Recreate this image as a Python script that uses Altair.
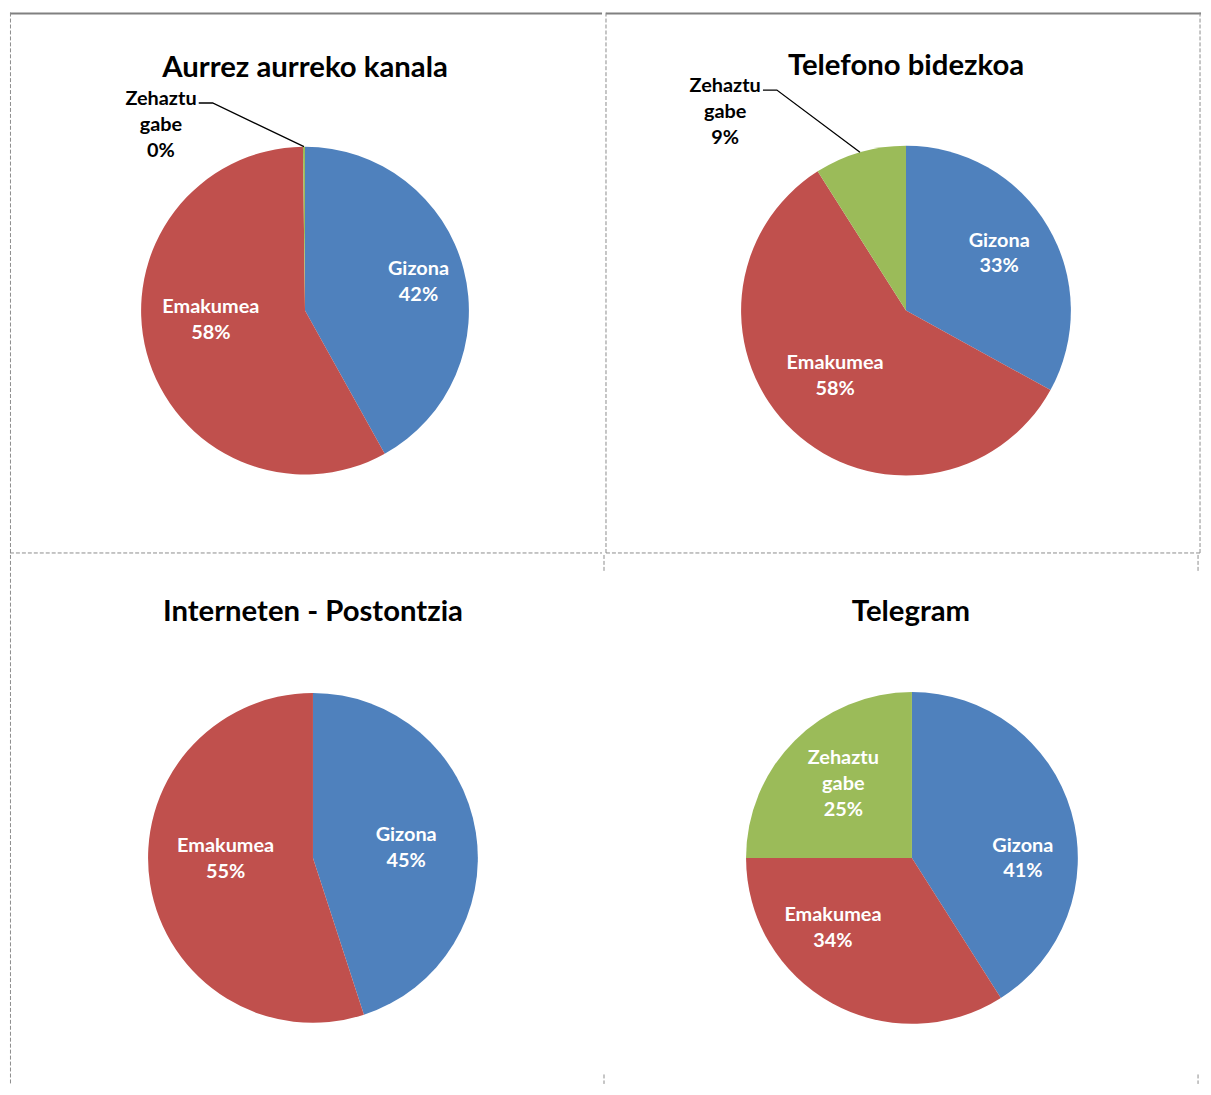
import math
import altair as alt
import pandas as pd

# ---------------- data ----------------
titles = ["Aurrez aurreko kanala", "Telefono bidezkoa", "Interneten - Postontzia", "Telegram"]
categories = ["Gizona", "Emakumea", "Zehaztu gabe"]
gizona = [42, 33, 45, 41]
emakumea = [58, 58, 55, 34]
zehaztu_gabe = [0.2, 9, 0, 25]
colors = ["#4F81BD", "#C0504D", "#9BBB59"]

# ---------------- layout / style ----------------
panel_w = [596, 599, 596, 599]
panel_h = [544, 544, 533, 533]
centers = [(297, 300), (302, 300), (305, 305), (310, 305)]
radii = [165, 166, 166, 167]
title_pos = [(297, 56), (302, 54), (305, 57), (309, 57)]
# label distance from centre and small nudges (Excel "best fit" placement)
label_dist = [[117, 95, 0], [109, 97, 0], [94, 88, 0], [109, 107, 102]]
label_nudge = [[(1, 1), (-3, -15), (0, 0)], [(0, -2), (-5, -5), (0, 0)],
               [(1, 5), (-1, -13), (0, 0)], [(7, 31), (-28, -23), (3, -2)]]
outside_offset = {0: (-145, -187), 1: (-182, -200)}  # outside label block centre from pie centre
FONT = "Lato"
TITLE_SIZE = 29.5
LABEL_SIZE = 20
LH = 26
DASH = [4, 2]
GRID = "#8c8c8c"


def rule(x1, y1, x2, y2, dash=True, color=GRID, width=1):
    kw = dict(color=color, strokeWidth=width)
    if dash:
        kw["strokeDash"] = DASH
    return alt.Chart(pd.DataFrame({"k": [0]})).mark_rule(**kw).encode(
        x=alt.value(x1), x2=alt.value(x2), y=alt.value(y1), y2=alt.value(y2)
    )


def panel(p):
    vals = [gizona[p], emakumea[p], zehaztu_gabe[p]]
    cx, cy = centers[p]
    r = radii[p]
    total = sum(vals)
    labels = [c.replace(" ", "\n") + "\n" + f"{round(v)}%" for c, v in zip(categories, vals)]
    rows = []
    for i, (c, v) in enumerate(zip(categories, vals)):
        row = {"cat": c, "v": v, "i": i}
        for j in range(3):
            row[f"t{j}"] = labels[i] if j == i else ""
        rows.append(row)
    df = pd.DataFrame(rows)

    base = alt.Chart(df).encode(
        theta=alt.Theta("v:Q", stack=True),
        order=alt.Order("i:Q"),
        x=alt.value(cx),
        y=alt.value(cy),
    )
    arcs = base.mark_arc(outerRadius=r).encode(
        color=alt.Color("cat:N", scale=alt.Scale(domain=categories, range=colors), legend=None)
    )
    layers = [arcs]

    for i in range(3):
        if vals[i] == 0 or (i == 2 and p in outside_offset):
            continue
        n = labels[i].count("\n") + 1
        nx, ny = label_nudge[p][i]
        layers.append(
            base.mark_text(
                radius=label_dist[p][i], dx=nx, dy=ny - (n - 1) * LH / 2,
                font=FONT, fontWeight="bold", fontSize=LABEL_SIZE, color="white",
                lineBreak="\n", lineHeight=LH, align="center", baseline="middle",
            ).encode(text=f"t{i}:N")
        )

    tx, ty = title_pos[p]
    layers.append(
        alt.Chart(pd.DataFrame({"t": [titles[p]]})).mark_text(
            font=FONT, fontWeight="bold", fontSize=TITLE_SIZE, color="black",
            align="center", baseline="middle",
        ).encode(text="t:N", x=alt.value(tx), y=alt.value(ty))
    )

    if p in outside_offset:
        ox, oy = outside_offset[p]
        lx, ly = cx + ox, cy + oy
        lab = labels[2]
        n = lab.count("\n") + 1
        first = ly - (n - 1) * LH / 2
        out_text = alt.Chart(pd.DataFrame({"t": [lab]})).mark_text(
            font=FONT, fontWeight="bold", fontSize=LABEL_SIZE, color="black",
            lineBreak="\n", lineHeight=LH, align="center", baseline="middle",
        ).encode(text="t:N", x=alt.value(lx), y=alt.value(first))
        start = (vals[0] + vals[1]) / total * 2 * math.pi
        mid = (start + 2 * math.pi) / 2
        ex, ey = cx + r * math.sin(mid), cy - r * math.cos(mid)
        pts = pd.DataFrame({
            "x": [lx + 38, lx + 52, ex],
            "y": [first + 4, first + 4, ey],
            "k": [0, 1, 2],
        })
        leader = alt.Chart(pts).mark_line(color="black", strokeWidth=1.3).encode(
            x=alt.X("x:Q", scale=None, axis=None),
            y=alt.Y("y:Q", scale=None, axis=None),
            order="k:Q",
        )
        layers += [leader, out_text]

    w, h = panel_w[p], panel_h[p]
    if p == 0:
        layers += [rule(0, 1, w, 1, dash=False, color="#808080", width=2),
                   rule(0.5, 0, 0.5, h), rule(0, h, w, h)]
    elif p == 1:
        layers += [rule(0, 1, w, 1, dash=False, color="#808080", width=2),
                   rule(0, 0, 0, h), rule(w - 1, 0, w - 1, h), rule(0, h, w, h)]
    elif p == 2:
        layers += [rule(0.5, 0, 0.5, h - 0.5)]
    else:
        layers += [rule(0, 0, 0, 18), rule(w - 1, 0, w - 1, 18),
                   rule(0, h - 10, 0, h - 0.5), rule(w - 1, h - 10, w - 1, h - 0.5)]

    return alt.layer(*layers).properties(width=w, height=h)


top = alt.hconcat(panel(0), panel(1), spacing=0)
bottom = alt.hconcat(panel(2), panel(3), spacing=0)
chart = (
    alt.vconcat(top, bottom, spacing=0)
    .properties(padding=0)
    .configure_view(stroke="transparent")
)

chart.save("out.html", embed_options={"renderer": "svg", "actions": False})
